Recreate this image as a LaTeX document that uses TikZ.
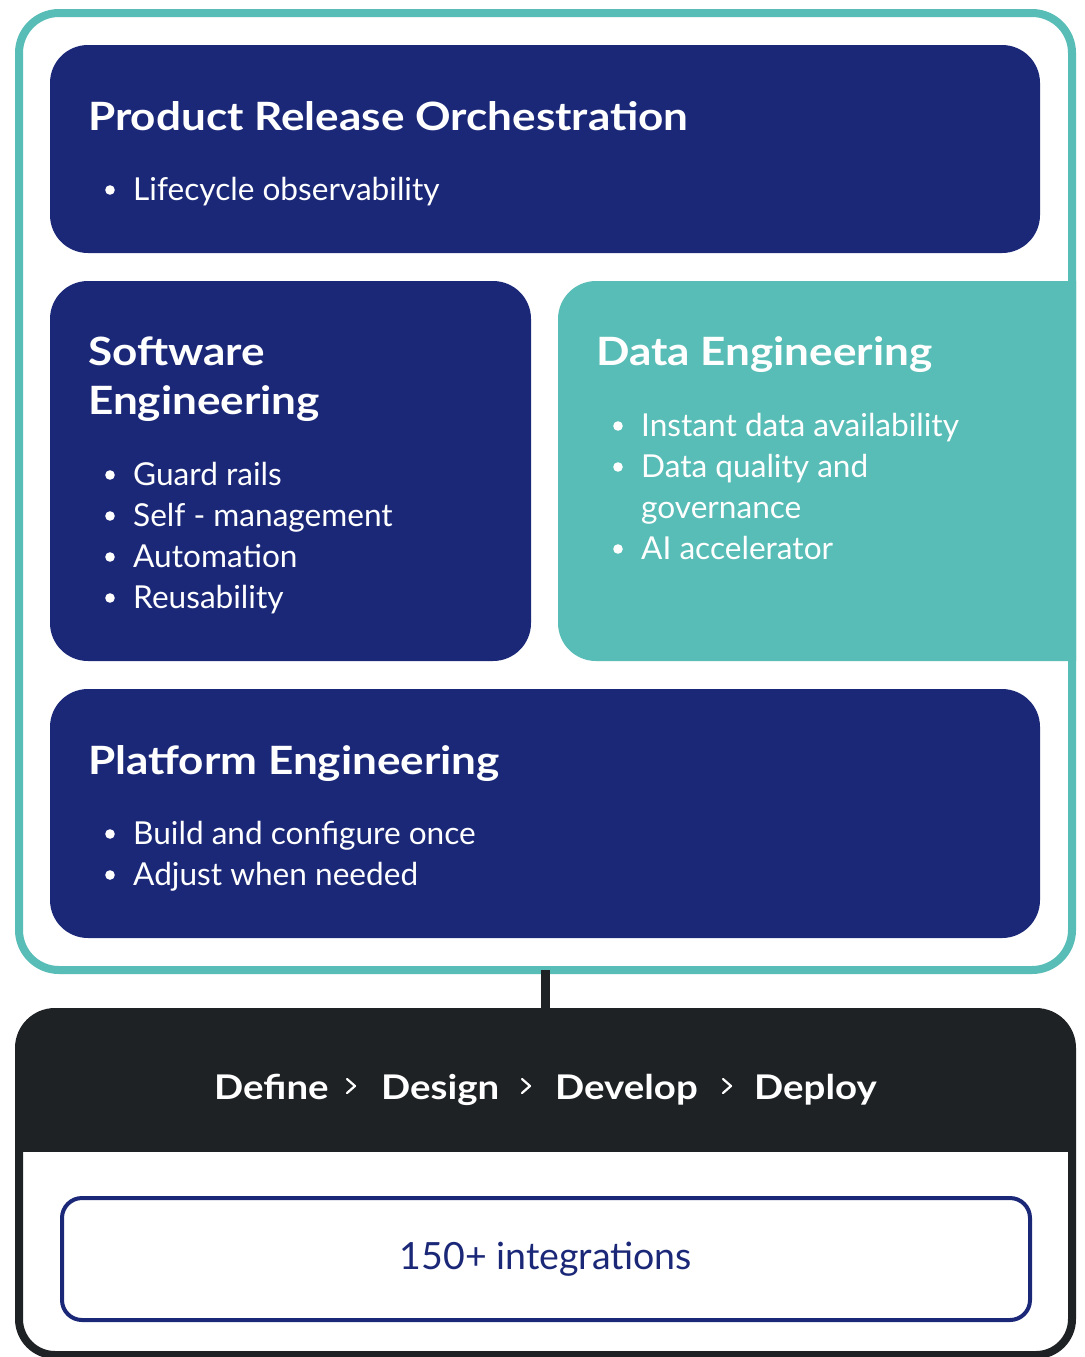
\documentclass[tikz,border=0pt]{standalone}
\usepackage{fontspec}
\setmainfont{Lato}
\newfontfamily\headfont{Lato}[FakeStretch=1.13]
\usetikzlibrary{positioning}

\definecolor{navy}{HTML}{1B2878}
\definecolor{aqua}{HTML}{58BDB6}
\definecolor{coal}{HTML}{1F2224}

\tikzset{
  panel/.style={fill=navy, rounded corners=38},
  heading/.style={anchor=base west, inner sep=0, text=white, font=\headfont\fontsize{39}{48}\selectfont\bfseries},
  item/.style={anchor=base west, inner sep=0, text=white, font=\fontsize{31.6}{40}\selectfont},
  stage/.style={anchor=base west, inner sep=0, text=white, font=\headfont\fontsize{34}{42}\selectfont\bfseries},
  chevron/.style={white, line width=2.2pt, line cap=round, line join=round},
}

% bullet item: name, x, baseline y, text
\newcommand{\bitem}[4]{%
  \node[item] (#1) at (#2,#3) {#4};
  \fill[white] ({#2-23},{#3-10}) circle (4.8);
}

\begin{document}
\begin{tikzpicture}[x=1pt,y=-1pt]
  \useasboundingbox (0,0) rectangle (1084,1357);
  \fill[white] (0,0) rectangle (1084,1357);

  % Outer frame
  \node[draw=aqua, line width=8pt, rounded corners=40, minimum width=1053, minimum height=957, inner sep=0, outer sep=0, anchor=north west]
    (frame) at (19,13) {};

  % Product release panel
  \fill[panel] (50,45) rectangle (1040,253);
  \node[heading] (prod) at (88,130) {Product Release Orchestration};
  \bitem{prod1}{133}{200}{Lifecycle observability}

  % Software engineering panel
  \fill[panel] (50,281) rectangle (531,661);
  \node[heading] (swe) at (88,365) {Software};
  \node[heading] (swe2) at (88,414) {Engineering};
  \bitem{swe3}{133}{485}{Guard rails}
  \bitem{swe4}{133}{526}{Self - management}
  \bitem{swe5}{133}{567}{Automation}
  \bitem{swe6}{133}{608}{Reusability}

  % Data engineering panel (runs into the frame on the right)
  \begin{scope}
    \clip (0,0) rectangle (1076,1357);
    \fill[aqua, rounded corners=38] (558,281) rectangle (1120,661);
  \end{scope}
  \node[heading] (dat) at (596,365) {Data Engineering};
  \bitem{dat1}{641}{436}{Instant data availability}
  \bitem{dat2}{641}{477}{Data quality and}
  \node[item] (dat3) at (641,518) {governance};
  \bitem{dat4}{641}{559}{AI accelerator}

  % Platform engineering panel
  \fill[panel] (50,689) rectangle (1040,938);
  \node[heading] (plat) at (88,774) {Platform Engineering};
  \bitem{plat1}{133}{844}{Build and configure once}
  \bitem{plat2}{133}{885}{Adjust when needed}

  % Lifecycle box
  \node[draw=coal, line width=8pt, rounded corners=36, minimum width=1053, minimum height=343, inner sep=0, outer sep=0, anchor=north west]
    (cycle) at (19,1012) {};
  \begin{scope}
    \clip[rounded corners=36] (19,1012) rectangle (1072,1355);
    \fill[coal] (0,1000) rectangle (1084,1152);
  \end{scope}
  \draw[coal, line width=9pt] (frame.south) -- (cycle.north);

  \node[stage] (def) at (214,1099) {Define};
  \node[stage] (des) at (381,1099) {Design};
  \node[stage] (dev) at (555,1099) {Develop};
  \node[stage] (dep) at (754,1099) {Deploy};
  \foreach \cx in {351,526,727}
    \draw[chevron] (\cx-4,1079) -- (\cx+4,1086) -- (\cx-4,1093);

  % Integrations
  \node[draw=navy, line width=4pt, rounded corners=20, minimum width=968, minimum height=122, inner sep=0, outer sep=0, anchor=north west,
        text=navy, font=\fontsize{37.5}{44}\selectfont]
    (integ) at (62,1198) {150+ integrations};
\end{tikzpicture}
\end{document}
